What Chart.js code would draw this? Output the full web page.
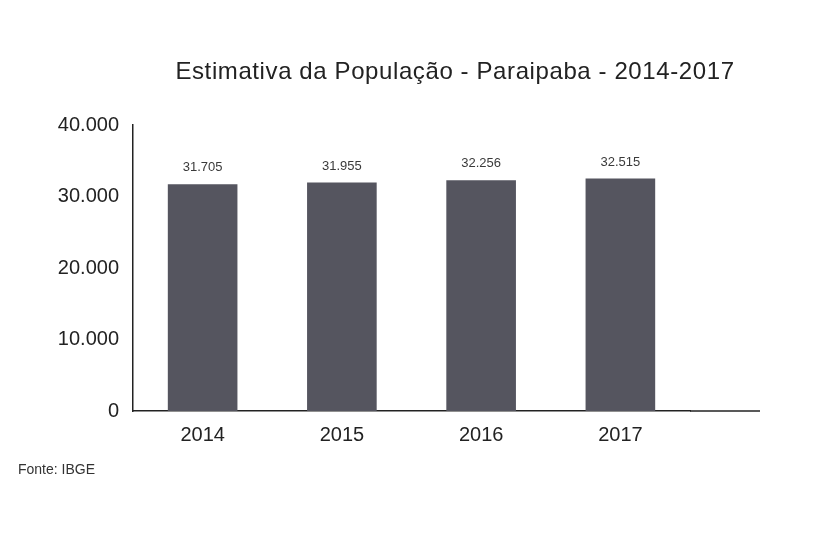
<!DOCTYPE html>
<html>
<head>
<meta charset="utf-8">
<script src="https://cdn.jsdelivr.net/npm/chart.js@4/dist/chart.umd.min.js"></script>
<style>
  html, body { margin: 0; padding: 0; background: #ffffff; }
  #wrap { width: 815px; height: 540px; position: relative; }
</style>
</head>
<body>
<div id="wrap"><canvas id="c" width="815" height="540"></canvas></div>
<script>
const categories = ["2014", "2015", "2016", "2017"];
const populacao = [31705, 31955, 32256, 32515];
const yTicks = [0, 10000, 20000, 30000, 40000];
const titleText = "Estimativa da População - Paraipaba - 2014-2017";
const sourceText = "Fonte: IBGE";

function fmt(v) {
  return String(v).replace(/\B(?=(\d{3})+(?!\d))/g, ".");
}

const FONT = "'Liberation Sans', Arial, sans-serif";

const labelsPlugin = {
  id: "valueLabels",
  afterDatasetsDraw(chart) {
    const ctx = chart.ctx;
    const meta = chart.getDatasetMeta(0);
    ctx.save();
    ctx.font = "13px " + FONT;
    ctx.fillStyle = "#3a3a3a";
    ctx.textAlign = "center";
    ctx.textBaseline = "bottom";
    meta.data.forEach((el, i) => {
      ctx.fillText(fmt(chart.data.datasets[0].data[i]), el.x, el.y - 10);
    });
    ctx.restore();
  }
};

const extrasPlugin = {
  id: "extras",
  afterDraw(chart) {
    const ctx = chart.ctx;
    const a = chart.chartArea;
    ctx.save();
    // extend x axis baseline to the right like the reference
    ctx.strokeStyle = "#222222";
    ctx.lineWidth = 1.5;
    ctx.beginPath();
    ctx.moveTo(a.right, a.bottom);
    ctx.lineTo(760, a.bottom);
    ctx.stroke();
    // title
    ctx.font = "24px " + FONT;
    ctx.fillStyle = "#222222";
    ctx.textAlign = "center";
    ctx.textBaseline = "middle";
    try { ctx.letterSpacing = "0.6px"; } catch (e) {}
    ctx.fillText(titleText, 455, 72);
    try { ctx.letterSpacing = "0px"; } catch (e) {}
    // source note
    ctx.font = "14px " + FONT;
    ctx.fillStyle = "#333333";
    ctx.textAlign = "left";
    ctx.textBaseline = "middle";
    ctx.fillText(sourceText, 18, 470);
    ctx.restore();
  }
};

new Chart(document.getElementById("c"), {
  type: "bar",
  data: {
    labels: categories,
    datasets: [{
      data: populacao,
      backgroundColor: "#55555f",
      borderWidth: 0,
      barPercentage: 0.5,
      categoryPercentage: 1.0
    }]
  },
  options: {
    responsive: false,
    animation: false,
    layout: { padding: { top: 125, right: 125, bottom: 81, left: 0 } },
    plugins: {
      legend: { display: false },
      tooltip: { enabled: false },
      title: { display: false }
    },
    scales: {
      x: {
        grid: { display: false, drawTicks: false },
        border: { display: true, color: "#222222", width: 1.5 },
        ticks: { color: "#222222", font: { family: FONT, size: 20 }, padding: 12 }
      },
      y: {
        min: 0,
        max: 40000,
        afterBuildTicks(scale) { scale.ticks = yTicks.map(v => ({ value: v })); },
        afterFit(scale) { scale.width = 133; },
        grid: { display: false, drawTicks: false },
        border: { display: true, color: "#222222", width: 1.5 },
        ticks: {
          color: "#222222",
          font: { family: FONT, size: 20 },
          padding: 14,
          callback: (v) => fmt(v)
        }
      }
    }
  },
  plugins: [labelsPlugin, extrasPlugin]
});
</script>
</body>
</html>
